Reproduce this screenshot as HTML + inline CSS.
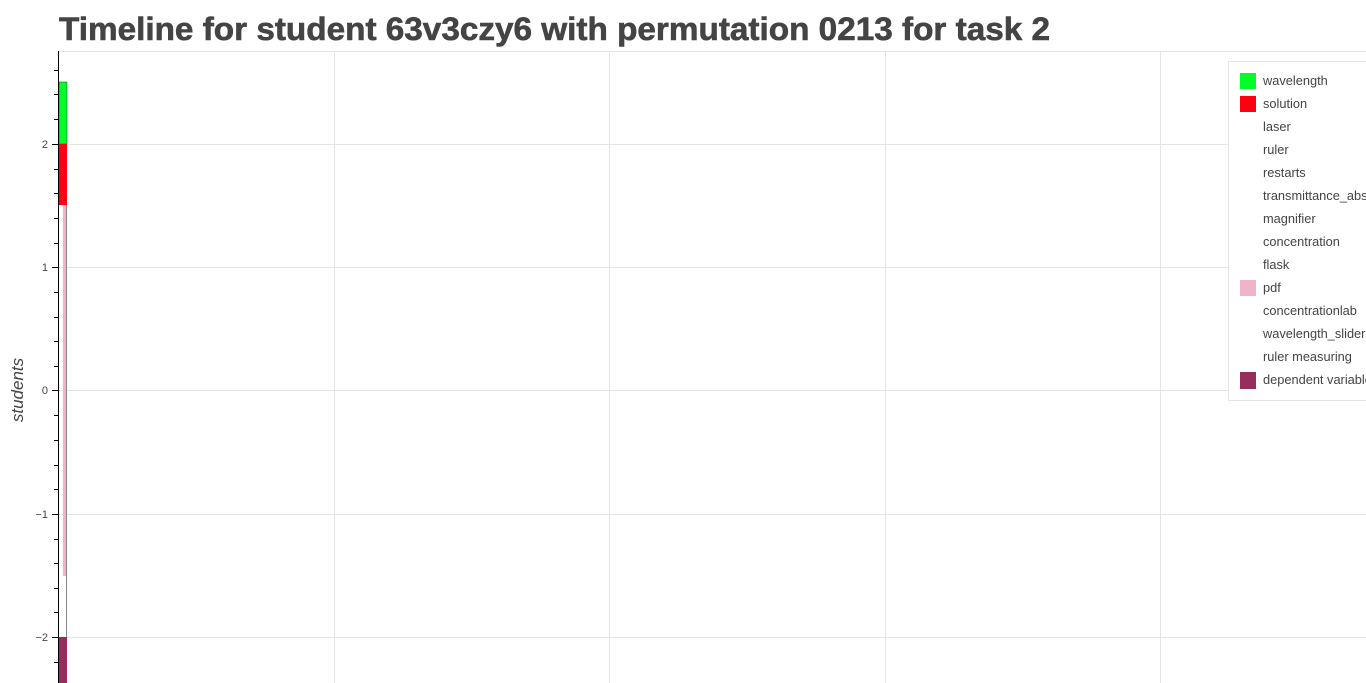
<!DOCTYPE html>
<html><head><style>html,body{margin:0;padding:0;background:#fff;}svg{display:block}</style></head>
<body>
<svg width="1366" height="683" xmlns="http://www.w3.org/2000/svg" font-family="Liberation Sans, Arial, sans-serif">
<text x="59" y="40" font-size="32" font-weight="bold" fill="#444" textLength="991" lengthAdjust="spacingAndGlyphs" stroke="#444" stroke-width="0.6">Timeline for student 63v3czy6 with permutation 0213 for task 2</text>
<!-- grid -->
<g stroke="#e5e5e5" stroke-width="1">
<line x1="59" y1="51.5" x2="1366" y2="51.5"/>
<line x1="59" y1="144.5" x2="1366" y2="144.5"/>
<line x1="59" y1="267.5" x2="1366" y2="267.5"/>
<line x1="59" y1="390.5" x2="1366" y2="390.5"/>
<line x1="59" y1="514.5" x2="1366" y2="514.5"/>
<line x1="59" y1="637.5" x2="1366" y2="637.5"/>
<line x1="334.5" y1="51" x2="334.5" y2="683"/>
<line x1="609.5" y1="51" x2="609.5" y2="683"/>
<line x1="885.5" y1="51" x2="885.5" y2="683"/>
<line x1="1160.5" y1="51" x2="1160.5" y2="683"/>
</g>
<!-- bars -->
<rect x="59" y="82" width="8" height="62" fill="#00ff2a" stroke="#333" stroke-width="0.5"/>
<rect x="59" y="144" width="8" height="61" fill="#ff0010"/>
<rect x="63" y="205" width="4" height="371" fill="#efb4c8"/>
<line x1="66.5" y1="205" x2="66.5" y2="637" stroke="#888" stroke-width="1"/>
<rect x="59" y="637" width="8" height="46" fill="#962d5a"/>
<!-- axis -->
<line x1="58.5" y1="51" x2="58.5" y2="683" stroke="#000" stroke-width="1"/>
<g stroke="#000" stroke-width="1">
<line x1="52" y1="144.5" x2="58" y2="144.5"/>
<line x1="52" y1="267.5" x2="58" y2="267.5"/>
<line x1="52" y1="390.5" x2="58" y2="390.5"/>
<line x1="52" y1="514.5" x2="58" y2="514.5"/>
<line x1="52" y1="637.5" x2="58" y2="637.5"/>
</g>
<g stroke="#000" stroke-width="1">
<line x1="54" y1="70.5" x2="58" y2="70.5"/><line x1="54" y1="94.5" x2="58" y2="94.5"/><line x1="54" y1="119.5" x2="58" y2="119.5"/>
<line x1="54" y1="169.5" x2="58" y2="169.5"/><line x1="54" y1="193.5" x2="58" y2="193.5"/><line x1="54" y1="218.5" x2="58" y2="218.5"/><line x1="54" y1="243.5" x2="58" y2="243.5"/>
<line x1="54" y1="292.5" x2="58" y2="292.5"/><line x1="54" y1="317.5" x2="58" y2="317.5"/><line x1="54" y1="341.5" x2="58" y2="341.5"/><line x1="54" y1="366.5" x2="58" y2="366.5"/>
<line x1="54" y1="415.5" x2="58" y2="415.5"/><line x1="54" y1="440.5" x2="58" y2="440.5"/><line x1="54" y1="465.5" x2="58" y2="465.5"/><line x1="54" y1="489.5" x2="58" y2="489.5"/>
<line x1="54" y1="539.5" x2="58" y2="539.5"/><line x1="54" y1="563.5" x2="58" y2="563.5"/><line x1="54" y1="588.5" x2="58" y2="588.5"/><line x1="54" y1="612.5" x2="58" y2="612.5"/>
<line x1="54" y1="662.5" x2="58" y2="662.5"/>
</g>
<g font-size="11" fill="#444" text-anchor="end">
<text x="48" y="148">2</text>
<text x="48" y="271">1</text>
<text x="48" y="394">0</text>
<text x="48" y="518">−1</text>
<text x="48" y="641">−2</text>
</g>
<text transform="translate(23,390) rotate(-90)" font-size="17" font-style="italic" fill="#444" text-anchor="middle">students</text>
<!-- legend -->
<rect x="1228.5" y="61.5" width="150" height="339" fill="#fff" stroke="#e5e5e5"/>
<g font-size="12.8" fill="#444">
<rect x="1240" y="73" width="16" height="16" fill="#00ff2a"/><text x="1263" y="85">wavelength</text>
<rect x="1240" y="96" width="16" height="16" fill="#ff0010"/><text x="1263" y="108">solution</text>
<text x="1263" y="131">laser</text>
<text x="1263" y="154">ruler</text>
<text x="1263" y="177">restarts</text>
<text x="1263" y="200">transmittance_absorbance</text>
<text x="1263" y="223">magnifier</text>
<text x="1263" y="246">concentration</text>
<text x="1263" y="269">flask</text>
<rect x="1240" y="280" width="16" height="16" fill="#efb4c8"/><text x="1263" y="292">pdf</text>
<text x="1263" y="315">concentrationlab</text>
<text x="1263" y="338">wavelength_slider</text>
<text x="1263" y="361">ruler measuring</text>
<rect x="1240" y="372" width="16" height="17" fill="#962d5a"/><text x="1263" y="384">dependent variable</text>
</g>
</svg>
</body></html>
